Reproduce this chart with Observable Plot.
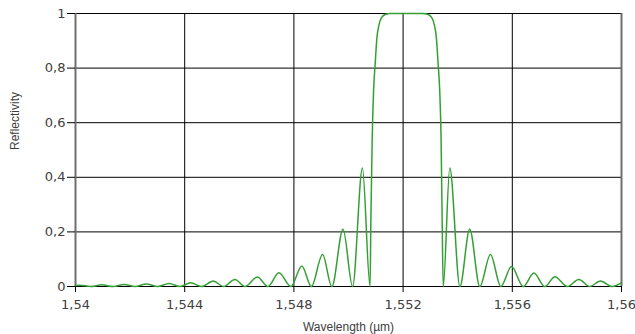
<!DOCTYPE html>
<html>
<head>
<meta charset="utf-8">
<script src="https://cdn.jsdelivr.net/npm/d3@7"></script>
<script src="https://cdn.jsdelivr.net/npm/@observablehq/plot@0.6"></script>
<style>
  html, body { margin: 0; padding: 0; background: #fff; }
  #chart svg { display: block; }
</style>
</head>
<body>
<div id="chart"></div>
<script>
// Grating reflection spectrum: wavelength (µm) and reflectivity, sampled at
// side-lobe peaks, nulls and along the edges of the main stop band.
const wavelength = [
  1.54000, 1.54015, 1.54056, 1.54096, 1.54138, 1.54178, 1.54218, 1.54260,
  1.54301, 1.54343, 1.54382, 1.54422, 1.54461, 1.54505, 1.54542, 1.54584,
  1.54621, 1.54666, 1.54705, 1.54745, 1.54789, 1.54829, 1.54864, 1.54905,
  1.54939, 1.54980, 1.55015, 1.55051, 1.55079,
  1.55082, 1.55087, 1.55092, 1.55098, 1.55104, 1.55112, 1.55121, 1.55136,
  1.55154, 1.55213, 1.55272,
  1.55290, 1.55305, 1.55314, 1.55322, 1.55328, 1.55334, 1.55339, 1.55343,
  1.55347, 1.55371, 1.55408, 1.55444, 1.55481, 1.55520, 1.55558, 1.55597,
  1.55640, 1.55679, 1.55719, 1.55756, 1.55801, 1.55844, 1.55884, 1.55923,
  1.55966, 1.56000
];
const reflectivity = [
  0.004, 0.005, 0, 0.006, 0, 0.007, 0, 0.009,
  0, 0.011, 0, 0.014, 0, 0.020, 0, 0.026,
  0, 0.035, 0, 0.050, 0, 0.075, 0, 0.117,
  0, 0.210, 0, 0.434, 0,
  0.25, 0.55, 0.72, 0.82, 0.91, 0.96, 0.985, 0.997,
  1, 1, 1,
  0.997, 0.985, 0.96, 0.91, 0.82, 0.72, 0.55, 0.25,
  0, 0.434, 0, 0.210, 0, 0.117, 0, 0.073,
  0, 0.049, 0, 0.036, 0, 0.026, 0, 0.020,
  0, 0.013
];

const xTicks = [1.54, 1.544, 1.548, 1.552, 1.556, 1.56];
const xTickLabels = ["1,54", "1,544", "1,548", "1,552", "1,556", "1,56"];
const yTicks = [0, 0.2, 0.4, 0.6, 0.8, 1];
const yTickLabels = ["0", "0,2", "0,4", "0,6", "0,8", "1"];

const xTitle = "Wavelength (µm)";
const yTitle = "Reflectivity";

const spectrum = wavelength.map((w, i) => ({wavelength: w, reflectivity: reflectivity[i]}));

const chart = Plot.plot({
  width: 635,
  height: 334,
  marginLeft: 75,
  marginRight: 14,
  marginTop: 13,
  marginBottom: 48,
  style: {fontFamily: "'DejaVu Sans', sans-serif", fontSize: "13px", background: "#fff"},
  x: {domain: [1.54, 1.56]},
  y: {domain: [0, 1]},
  marks: [
    Plot.gridX(xTicks, {stroke: "#000", strokeOpacity: 1, strokeWidth: 1}),
    Plot.gridY(yTicks, {stroke: "#000", strokeOpacity: 1, strokeWidth: 1}),
    Plot.ruleX([1.54, 1.56], {stroke: "#6e6e6e", strokeWidth: 2}),
    Plot.axisX(xTicks, {
      tickFormat: (d, i) => xTickLabels[i],
      tickSize: 6, tickPadding: 7,
      stroke: "#000", fill: "#404040", label: null
    }),
    Plot.axisY(yTicks, {
      tickFormat: (d, i) => yTickLabels[i],
      tickSize: 8, tickPadding: 2,
      stroke: "#000", fill: "#404040", label: null
    }),
    Plot.line(spectrum, {
      x: "wavelength", y: "reflectivity",
      curve: "monotone-x", stroke: "#34a034", strokeWidth: 1.5
    }),
    Plot.text([xTitle], {
      frameAnchor: "bottom", dy: 41, lineAnchor: "middle",
      fontFamily: "'Liberation Sans', Arial, sans-serif", fontSize: 12, fill: "#404040"
    }),
    Plot.text([yTitle], {
      frameAnchor: "left", dx: -60, rotate: -90, lineAnchor: "middle",
      fontFamily: "'Liberation Sans', Arial, sans-serif", fontSize: 12, fill: "#404040"
    })
  ]
});

document.getElementById("chart").appendChild(chart);
</script>
</body>
</html>
